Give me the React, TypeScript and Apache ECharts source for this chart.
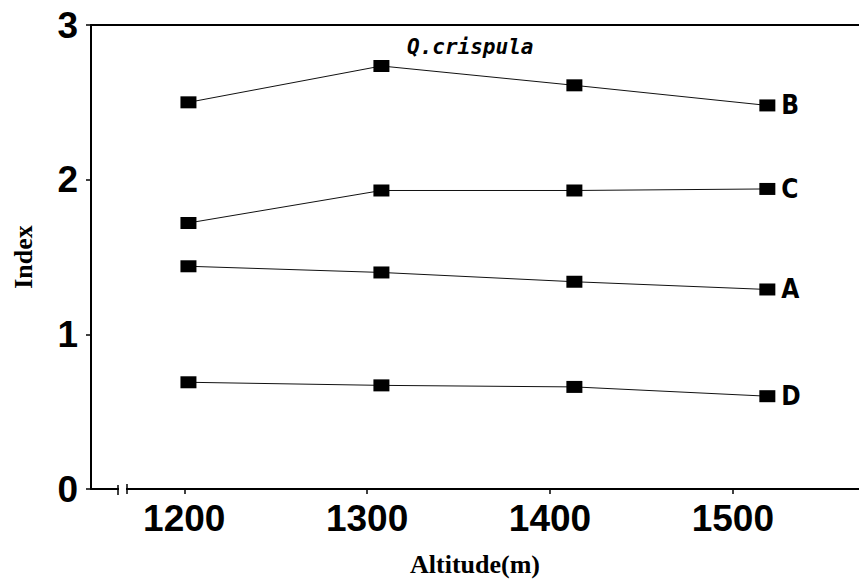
import React, { useEffect, useRef } from "react";
import * as echarts from "echarts";

const altitudes = [1200, 1300, 1400, 1500];
const tickLabels = [1200, 1300, 1400, 1500];
const seriesNames = ["B", "C", "A", "D"];
const valuesB = [2.5, 2.735, 2.61, 2.48];
const valuesC = [1.72, 1.93, 1.93, 1.94];
const valuesA = [1.44, 1.4, 1.34, 1.29];
const valuesD = [0.69, 0.67, 0.66, 0.6];
const yTicks = [0, 1, 2, 3];
const speciesTitle = "Q.crispula";

export default function App() {
  const ref = useRef<HTMLDivElement>(null);
  useEffect(() => {
    if (!ref.current) return;
    const chart = echarts.init(ref.current, null, { renderer: "svg" });
    const allValues = [valuesB, valuesC, valuesA, valuesD];
    const tickFont = {
      fontFamily: "'Liberation Sans Narrow', 'Liberation Sans', Arial, sans-serif",
      fontWeight: "bold" as const,
      fontSize: 37,
      color: "#000",
      formatter: (v: number) => String(v),
    };
    chart.setOption({
      animation: false,
      backgroundColor: "#fff",
      grid: { left: 91, right: 0, top: 25, bottom: 98, containLabel: false, outerBoundsMode: "none" },
      xAxis: [
        {
          type: "value",
          position: "bottom",
          min: 1149,
          max: 1569,
          name: "Altitude(m)",
          nameLocation: "middle",
          nameGap: 62,
          nameTextStyle: {
            fontFamily: "'Liberation Serif', 'Times New Roman', serif",
            fontWeight: "bold",
            fontSize: 26,
            color: "#000",
          },
          axisLine: { show: true, onZero: false, lineStyle: { color: "#000", width: 2 } },
          axisTick: { show: true, length: 5, customValues: tickLabels, lineStyle: { color: "#000", width: 1.5 } },
          axisLabel: { ...tickFont, margin: 11, customValues: tickLabels },
          splitLine: { show: false },
        },
        {
          type: "value",
          position: "top",
          min: 1149.5,
          max: 1547.5,
          axisLine: { show: true, onZero: false, lineStyle: { color: "#000", width: 2 } },
          axisTick: { show: false },
          axisLabel: { show: false },
          splitLine: { show: false },
        },
      ],
      yAxis: {
        type: "value",
        min: 0,
        max: 3,
        interval: 1,
        name: "Index",
        nameLocation: "middle",
        nameRotate: 90,
        nameGap: 55,
        nameTextStyle: {
          fontFamily: "'Liberation Serif', 'Times New Roman', serif",
          fontWeight: "bold",
          fontSize: 26,
          color: "#000",
        },
        axisLine: { show: true, lineStyle: { color: "#000", width: 2 } },
        axisTick: { show: true, length: 5, lineStyle: { color: "#000", width: 1.5 } },
        axisLabel: { ...tickFont, margin: 13, customValues: yTicks },
        splitLine: { show: false },
      },
      title: {
        text: speciesTitle,
        left: 402,
        top: 31,
        textStyle: {
          fontFamily: "'DejaVu Sans Mono', 'Liberation Mono', monospace",
          fontStyle: "italic",
          fontWeight: "bold",
          fontSize: 21,
          color: "#000",
        },
      },
      graphic: [
        { type: "rect", shape: { x: 119, y: 484, width: 7, height: 10 }, style: { fill: "#fff" }, z: 100 },
        { type: "line", shape: { x1: 118, y1: 485, x2: 118, y2: 495 }, style: { stroke: "#000", lineWidth: 1.5 }, z: 101 },
        { type: "line", shape: { x1: 127, y1: 484, x2: 127, y2: 494 }, style: { stroke: "#000", lineWidth: 1.5 }, z: 101 },
      ],
      series: seriesNames.map((name, i) => ({
        name,
        type: "line",
        xAxisIndex: 1,
        data: altitudes.map((a, j) => [a, allValues[i][j]]),
        symbol: "rect",
        symbolSize: [16, 12],
        showSymbol: true,
        itemStyle: { color: "#000" },
        lineStyle: { color: "#111", width: 1 },
        endLabel: {
          show: true,
          formatter: name,
          distance: 14,
          fontFamily: "'Liberation Sans Narrow', 'DejaVu Sans Condensed', sans-serif",
          fontWeight: "bold",
          fontSize: 26,
          color: "#000",
        },
      })),
    });
    return () => chart.dispose();
  }, []);
  return (
    <div
      ref={ref}
      style={{ position: "fixed", left: 0, top: 0, width: 859, height: 587 }}
    />
  );
}
